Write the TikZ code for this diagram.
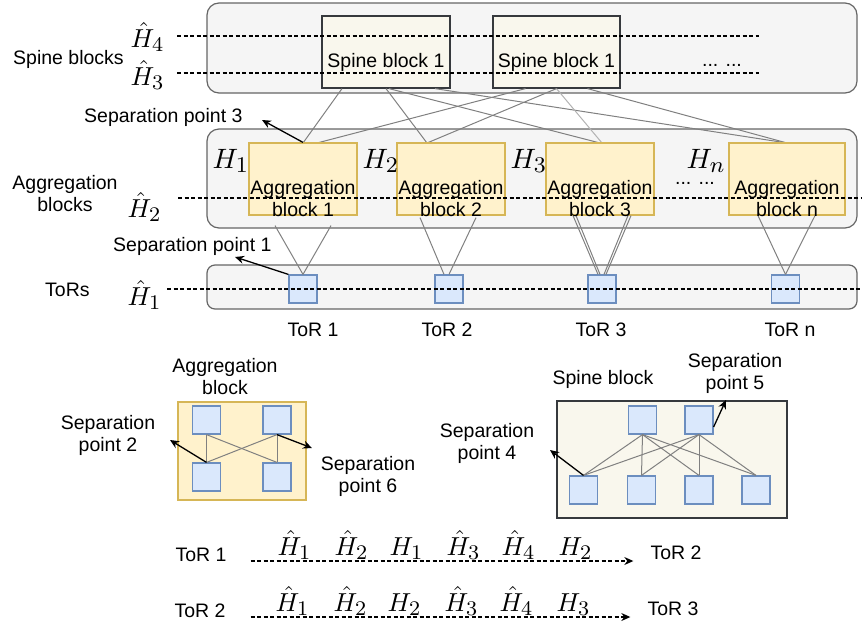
\documentclass[tikz,border=0pt]{standalone}
\usepackage[no-math]{fontspec}
\setmainfont{Liberation Sans}
% roomy subscripts for the header labels (set at 10pt, then scaled up)
\DeclareMathSizes{10}{10}{8}{6}
\usetikzlibrary{arrows.meta}
\definecolor{cline}{HTML}{666666}
\definecolor{cfill}{HTML}{F5F5F5}
\definecolor{spline}{HTML}{36393D}
\definecolor{spfill}{HTML}{F9F7ED}
\definecolor{agline}{HTML}{D6B656}
\definecolor{agfill}{HTML}{FFF2CC}
\definecolor{toline}{HTML}{6C8EBF}
\definecolor{tofill}{HTML}{DAE8FC}
\definecolor{linkc}{HTML}{808080}
\definecolor{faintc}{HTML}{B3B3B3}
\tikzset{
  txt/.style={font=\fontsize{19.5}{22.5}\selectfont, inner sep=0pt, text=black},
  mth/.style={font=\fontsize{10}{12}\selectfont, inner sep=0pt, scale=2.6, transform shape},
  mthb/.style={font=\fontsize{10}{12}\selectfont, inner sep=0pt, scale=2.8, transform shape},
  container/.style={draw=cline, fill=cfill, line width=1.2pt, rounded corners=12pt, inner sep=0pt},
  spinebox/.style={draw=spline, fill=spfill, line width=1.2pt, inner sep=0pt},
  aggbox/.style={draw=agline, fill=agfill, line width=1.2pt, inner sep=0pt},
  torbox/.style={draw=toline, fill=tofill, line width=1.2pt, inner sep=0pt, minimum size=28pt},
  link/.style={draw=linkc, line width=1pt},
  faint/.style={draw=faintc, line width=1pt},
  guide/.style={draw=black, line width=1.1pt, dash pattern=on 4pt off 2.5pt},
  seppt/.style={draw=black, line width=1.3pt, -{Stealth[length=9pt,width=8pt]}},
  flow/.style={guide, -{Stealth[length=9pt,width=8pt]}},
}
\begin{document}
\begin{tikzpicture}[x=1pt,y=-1pt]
\useasboundingbox (0,0) rectangle (864,627);

% ---------- tier containers ----------
\node[container, minimum width=650pt, minimum height=90pt] (spc) at (532,48) {};
\node[container, minimum width=650pt, minimum height=99pt] (agc) at (532,178.5) {};
\node[container, rounded corners=8pt, minimum width=650pt, minimum height=44pt] (toc) at (532,287) {};

% ---------- spine blocks ----------
\path (386,52) node[spinebox, minimum width=128pt, minimum height=72pt] (sp1) {}
      (556.5,52) node[spinebox, minimum width=127pt, minimum height=72pt] (sp2) {};

\path (303,179) coordinate (a1c) (451,179) coordinate (a2c)
      (600,179) coordinate (a3c) (787,179) coordinate (anc);

% spine -> aggregation links
\path (303,143) coordinate (a1n) (451,143) coordinate (a2n)
      (600,143) coordinate (a3n) (787,143) coordinate (ann);
\draw[link] ([xshift=-44pt]sp1.south) -- (a1n);
\draw[link] (sp1.south) -- ([xshift=-24pt]a2n);
\draw[link] ([xshift=3pt]sp1.south) -- (a3n);
\draw[link] ([xshift=49pt]sp1.south) -- (ann);
\draw[link] ([xshift=-31pt]sp2.south) -- ([xshift=14pt]a1n);
\draw[link] (sp2.south) -- ([xshift=-24pt]a2n);
\draw[faint] (sp2.south) -- ([xshift=2pt]a3n);
\draw[link] ([xshift=31pt]sp2.south) -- (ann);

% aggregation blocks
\node[aggbox, minimum width=108pt, minimum height=72pt] (a1) at (a1c) {};
\node[aggbox, minimum width=108pt, minimum height=72pt] (a2) at (a2c) {};
\node[aggbox, minimum width=108pt, minimum height=72pt] (a3) at (a3c) {};
\node[aggbox, minimum width=116pt, minimum height=72pt] (an) at (anc) {};

% ToR switches
\node[torbox] (t1) at (303,289) {};
\node[torbox] (t2) at (449,289) {};
\node[torbox] (t3) at (602,289) {};
\node[torbox] (tn) at (785.5,289) {};

% aggregation -> ToR links
\draw[link] ([shift={(-28pt,-10pt)}]a1.south) -- (t1.north);
\draw[link] ([shift={(28pt,-10pt)}]a1.south) -- (t1.north);
\draw[link] ([shift={(-31pt,-2pt)}]a2.south) -- ([xshift=-5pt]t2.north);
\draw[link] ([shift={(25pt,-2pt)}]a2.south) -- (t2.north);
\draw[link] ([xshift=-27pt]a3.south) -- ([xshift=-4pt]t3.north);
\draw[link] ([xshift=-24pt]a3.south) -- ([xshift=-2pt]t3.north);
\draw[link] ([xshift=28pt]a3.south) -- ([xshift=2pt]t3.north);
\draw[link] ([xshift=31pt]a3.south) -- ([xshift=4pt]t3.north);
\draw[link] ([xshift=-29pt]an.south) -- (tn.north);
\draw[link] ([xshift=28pt]an.south) -- (tn.north);

% block captions
\node[txt, anchor=base] (sp1t) at (386,67) {Spine block 1};
\node[txt, anchor=base] (sp2t) at (556.5,67) {Spine block 1};
\node[txt, anchor=base] (spdots) at (722,66) {... ...};
\node[txt, anchor=north, align=center] (a1t) at (303,180) {Aggregation\\block 1};
\node[txt, anchor=north, align=center] (a2t) at (451,180) {Aggregation\\block 2};
\node[txt, anchor=north, align=center] (a3t) at (600,180) {Aggregation\\block 3};
\node[txt, anchor=north, align=center] (ant) at (787,180) {Aggregation\\block n};
\node[txt, anchor=base] (agdots) at (695,184) {... ...};
\node[txt, anchor=base] (t1t) at (313,336) {ToR 1};
\node[txt, anchor=base] (t2t) at (447,336) {ToR 2};
\node[txt, anchor=base] (t3t) at (601,336) {ToR 3};
\node[txt, anchor=base] (tnt) at (790,336) {ToR n};

% tier labels
\node[txt, anchor=base west] (lsp) at (13,64) {Spine blocks};
\node[txt, anchor=north, align=center] (lag) at (65,175) {Aggregation\\blocks};
\node[txt, anchor=base west] (ltor) at (45,296) {ToRs};
\node[txt, anchor=base west] (s3t) at (84,122) {Separation point 3};
\node[txt, anchor=base west] (s1t) at (113,251) {Separation point 1};

% header levels
\coordinate (h4s) at (177,36);  \coordinate (h4e) at (759,36);
\coordinate (h3s) at (177,73);  \coordinate (h3e) at (759,73);
\coordinate (h2s) at (178,198); \coordinate (h2e) at (862,198);
\coordinate (h1s) at (167,289); \coordinate (h1e) at (862,289);
\draw[guide] (h4s) -- (h4e);
\draw[guide] (h3s) -- (h3e);
\draw[guide] (h2s) -- (h2e);
\draw[guide] (h1s) -- (h1e);
\node[mth, anchor=base west] (mh4) at (130,47) {$\hat{H}_4$};
\node[mth, anchor=base west] (mh3) at (130,85) {$\hat{H}_3$};
\node[mth, anchor=base west] (mh2) at (127,217) {$\hat{H}_2$};
\node[mth, anchor=base west] (mh1) at (127,305) {$\hat{H}_1$};
\node[mthb, anchor=base west] (g1) at (212,168) {$H_1$};
\node[mthb, anchor=base west] (g2) at (362,168) {$H_2$};
\node[mthb, anchor=base west] (g3) at (510,168) {$H_3$};
\node[mthb, anchor=base west] (gn) at (686,168) {$H_n$};

% separation points in the fabric
\coordinate (s3tip) at (262,120);
\coordinate (s1tip) at (235,257);
\draw[seppt] (a1.north) -- (s3tip);
\draw[seppt] (t1.north west) -- (s1tip);

% ---------- aggregation block internals ----------
\node[aggbox, minimum width=128pt, minimum height=98pt] (ab) at (242,451) {};
\node[torbox] (b1) at (206.5,420) {};
\node[torbox] (b2) at (277,420) {};
\node[torbox] (b3) at (206.5,477) {};
\node[torbox] (b4) at (277,477) {};
\draw[link] (b1.south) -- (b3.north);
\draw[link] (b1.south) -- (b4.north);
\draw[link] (b2.south) -- (b4.north);
\draw[link] (b2.south) -- (b3.north);
\coordinate (s2tip) at (170,440);
\coordinate (s6tip) at (312,448);
\draw[seppt] (b3.north) -- (s2tip);
\draw[seppt] (b2.south) -- (s6tip);
\node[txt, anchor=north, align=center] (abt) at (225,358) {Aggregation\\block};
\node[txt, anchor=north, align=center] (s2t) at (108,415) {Separation\\point 2};
\node[txt, anchor=north, align=center] (s6t) at (368,456) {Separation\\point 6};

% ---------- spine block internals ----------
\node[spinebox, minimum width=230pt, minimum height=117pt] (sb) at (672,459.5) {};
\node[torbox] (c1) at (642.5,420) {};
\node[torbox] (c2) at (699,420) {};
\node[torbox] (d1) at (583.5,490) {};
\node[torbox] (d2) at (641.5,490) {};
\node[torbox] (d3) at (699,490) {};
\node[torbox] (d4) at (756,490) {};
\foreach \u in {c1,c2}
  \foreach \v in {d1,d2,d3,d4}
    \draw[link] (\u.south) -- (\v.north);
\coordinate (s4tip) at (550,450);
\coordinate (s5tip) at (726,400);
\draw[seppt] (d1.north) -- (s4tip);
\draw[seppt] ([yshift=-7pt]c2.east) -- (s5tip);
\node[txt, anchor=base] (sbt) at (603,384) {Spine block};
\node[txt, anchor=north, align=center] (s5t) at (735,353) {Separation\\point 5};
\node[txt, anchor=north, align=center] (s4t) at (487,423) {Separation\\point 4};

% ---------- header sequences along two paths ----------
\node[txt, anchor=base] (p1a) at (201,561) {ToR 1};
\node[txt, anchor=base] (p1b) at (676,559) {ToR 2};
\node[txt, anchor=base] (p2a) at (200,617) {ToR 2};
\node[txt, anchor=base] (p2b) at (673,615) {ToR 3};
\draw[flow, shorten <=24pt, shorten >=17pt] (p1a.base east) -- (p1b.base west |- p1a.base);
\draw[flow, shorten <=25pt, shorten >=17pt] (p2a.base east) -- (p2b.base west |- p2a.base);

\node[mth, anchor=base west] (q11) at (277,555) {$\hat{H}_1$};
\node[mth, anchor=base west] (q12) at (334,555) {$\hat{H}_2$};
\node[mth, anchor=base west] (q13) at (389,555) {$H_1$};
\node[mth, anchor=base west] (q14) at (446,555) {$\hat{H}_3$};
\node[mth, anchor=base west] (q15) at (501,555) {$\hat{H}_4$};
\node[mth, anchor=base west] (q16) at (558,555) {$H_2$};

\node[mth, anchor=base west] (q21) at (275,611) {$\hat{H}_1$};
\node[mth, anchor=base west] (q22) at (333,611) {$\hat{H}_2$};
\node[mth, anchor=base west] (q23) at (387,611) {$H_2$};
\node[mth, anchor=base west] (q24) at (444,611) {$\hat{H}_3$};
\node[mth, anchor=base west] (q25) at (499,611) {$\hat{H}_4$};
\node[mth, anchor=base west] (q26) at (556,611) {$H_3$};
\end{tikzpicture}
\end{document}
